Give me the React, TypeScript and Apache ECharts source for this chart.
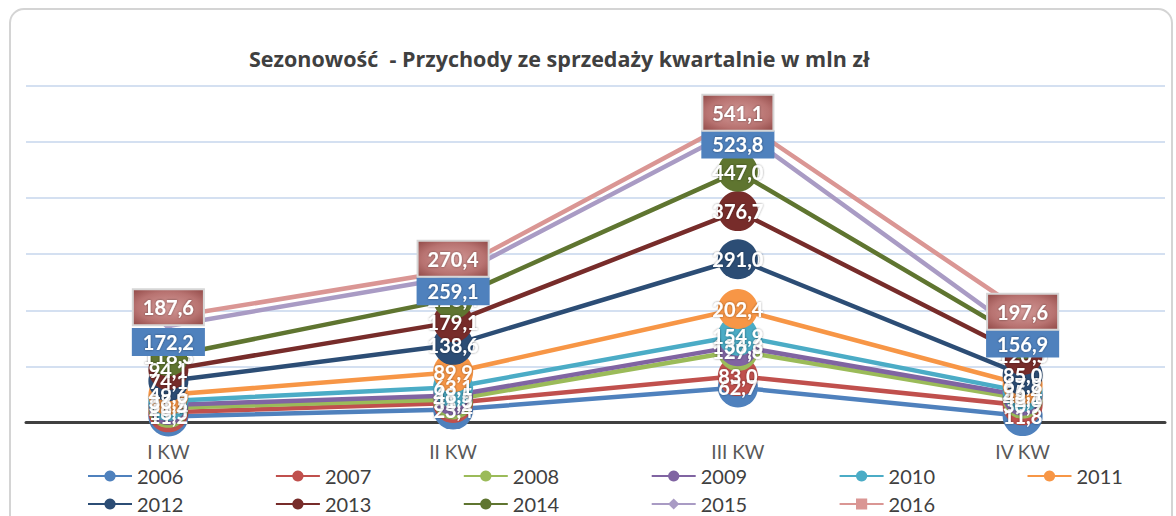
import React, { useEffect, useRef } from "react";
import * as echarts from "echarts";

const quarters = ["I KW", "II KW", "III KW", "IV KW"];
const years = ["2006", "2007", "2008", "2009", "2010", "2011", "2012", "2013", "2014", "2015", "2016"];

const s2006 = [11.2, 23.4, 62.7, 11.8];
const s2007 = [18.5, 35.2, 83.0, 30.9];
const s2008 = [26.4, 41.3, 127.8, 42.6];
const s2009 = [31.5, 48.5, 136.3, 48.1];
const s2010 = [38.7, 63.1, 154.9, 55.4];
const s2011 = [49.6, 89.9, 202.4, 67.8];
const s2012 = [74.1, 138.6, 291.0, 85.0];
const s2013 = [94.1, 179.1, 376.7, 120.5];
const s2014 = [118.3, 220.4, 447.0, 148.2];
const s2015 = [172.2, 259.1, 523.8, 156.9];
const s2016 = [187.6, 270.4, 541.1, 197.6];

const seriesValues = [s2006, s2007, s2008, s2009, s2010, s2011, s2012, s2013, s2014, s2015, s2016];

// label vertical shifts (style only) for the boxed labels of 2015 and 2016
const labelShift2015 = [16, 14, 16, 9];
const labelShift2016 = [-10, -12, -6, 0];

const colors = [
  "#4F81BD", "#C0504D", "#9BBB59", "#8064A2", "#4BACC6", "#F79646",
  "#2C4D75", "#772C2A", "#5F7530", "#A99BC4", "#DA9694",
];

const FONT = "Lato, 'Open Sans', sans-serif";
const TITLE_FONT = "'Open Sans', Lato, sans-serif";

const fmt = (p: any) => Number(p.value).toFixed(1).replace(".", ",");

export default function App() {
  const ref = useRef<HTMLDivElement>(null);

  useEffect(() => {
    if (!ref.current) return;
    const chart = echarts.init(ref.current, undefined, { renderer: "svg" });

    const baseLabel = {
      show: true,
      position: "inside",
      color: "#ffffff",
      fontFamily: FONT,
      fontWeight: "bold",
      fontSize: 20,
      textShadowColor: "rgba(0,0,0,0.45)",
      textShadowBlur: 2,
      formatter: fmt,
    };

    const series = years.map((y, i) => {
      const isRect15 = i === 9;
      const isRect16 = i === 10;
      let label: any = { ...baseLabel };
      let symbol = "circle";
      let symbolSize = 40;
      let data: any[] = seriesValues[i];
      if (isRect15) {
        symbol = "diamond";
        symbolSize = 10;
        label = {
          ...baseLabel,
          backgroundColor: "#4F81BD",
          padding: [2, 11],
          lineHeight: 24,
        };
        data = seriesValues[i].map((v, k) => ({ value: v, label: { offset: [0, labelShift2015[k]] } }));
      }
      if (isRect16) {
        symbol = "rect";
        symbolSize = 10;
        label = {
          ...baseLabel,
          backgroundColor: new echarts.graphic.RadialGradient(0.5, 0.5, 0.75, [
            { offset: 0, color: "#D29896" },
            { offset: 0.6, color: "#B87371" },
            { offset: 1, color: "#8E4644" },
          ]),
          borderColor: "#D6D6D6",
          borderWidth: 2,
          padding: [5, 9],
          lineHeight: 24,
        };
        data = seriesValues[i].map((v, k) => ({ value: v, label: { offset: [0, labelShift2016[k]] } }));
      }
      return {
        name: y,
        type: "line",
        data,
        symbol,
        symbolSize,
        showSymbol: true,
        color: colors[i],
        lineStyle: { width: 4.5, color: colors[i] },
        itemStyle: { color: colors[i] },
        label,
        z: 2,
      };
    });

    const legendCommon = {
      left: 82,
      itemWidth: 44,
      itemHeight: 14,
      itemGap: 91.5,
      textStyle: { fontFamily: FONT, fontSize: 20, color: "#404040" },
      selectedMode: false,
    };

    chart.setOption({
      animation: false,
      backgroundColor: "#ffffff",
      title: {
        text: "Sezonowość  - Przychody ze sprzedaży kwartalnie w mln zł",
        left: 244,
        top: 42,
        textStyle: { fontFamily: TITLE_FONT, fontSize: 21.5, fontWeight: "bold", color: "#404040" },
      },
      graphic: [
        {
          type: "rect",
          shape: { x: 10, y: 9, width: 1162, height: 530, r: 14 },
          style: { fill: "none", stroke: "#D4D4D4", lineWidth: 2 },
          silent: true,
          z: -10,
        },
      ],
      legend: [
        { ...legendCommon, top: 461, data: years.slice(0, 6) },
        { ...legendCommon, top: 489, data: years.slice(6) },
      ],
      grid: { left: 26, right: 11, top: 85.7, bottom: 93.3 },
      xAxis: {
        type: "category",
        data: quarters,
        boundaryGap: true,
        axisLine: { lineStyle: { color: "#404040", width: 3 } },
        axisTick: { show: false },
        axisLabel: { fontFamily: FONT, fontSize: 19, color: "#595959", margin: 19 },
      },
      yAxis: {
        type: "value",
        min: 0,
        max: 600,
        interval: 100,
        axisLabel: { show: false },
        axisLine: { show: false },
        axisTick: { show: false },
        splitLine: { lineStyle: { color: "#C6D6EC", width: 1.5 } },
      },
      series,
    });

    return () => chart.dispose();
  }, []);

  return (
    <div
      ref={ref}
      style={{ position: "fixed", left: 0, top: 0, width: 1176, height: 516, background: "#fff" }}
    />
  );
}
